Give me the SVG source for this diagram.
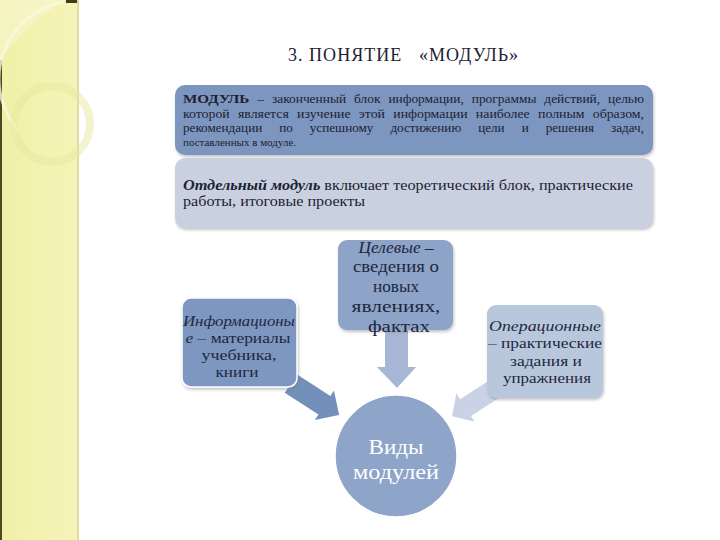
<svg xmlns="http://www.w3.org/2000/svg" width="720" height="540" viewBox="0 0 720 540">
  <defs>
    <filter id="shadow" x="-10%" y="-10%" width="120%" height="130%">
      <feDropShadow dx="1" dy="2" stdDeviation="1.5" flood-color="#7a7a7a" flood-opacity="0.45"/>
    </filter>
    <linearGradient id="band" x1="0" y1="0" x2="1" y2="0">
      <stop offset="0" stop-color="#f1f0a8"/>
      <stop offset="1" stop-color="#f5f4b8"/>
    </linearGradient>
  </defs>

  <rect x="0" y="0" width="720" height="540" fill="#ffffff"/>

  <!-- decorative left band -->
  <g id="band-decor">
    <rect x="0" y="0" width="79" height="540" fill="url(#band)"/>
    <rect x="0" y="60" width="2" height="480" fill="#4b4a22"/>
    <rect x="66" y="0" width="13" height="3" fill="#3d3c1c"/>
    <rect x="77" y="0" width="2" height="540" fill="#dcdba0"/>
    <path d="M64 2 A78 78 0 0 0 18 130" fill="none" stroke="#fafae0" stroke-width="3" opacity="0.8"/>
    <circle cx="52" cy="124" r="38" fill="none" stroke="#e8e7a0" stroke-width="8" opacity="0.5"/>
    <path d="M0 0 L66 0 Q30 20 0 60 Z" fill="#f8f8d8" opacity="0.5"/>
  </g>

  <!-- title -->
  <text x="288" y="61" fill="#1c2233" style="font-family:'Liberation Serif',serif" font-size="18" textLength="230" lengthAdjust="spacing" xml:space="preserve">3. ПОНЯТИЕ   «МОДУЛЬ»</text>

  <!-- definition box -->
  <g id="definition">
    <rect x="175" y="85" width="478" height="70" rx="10" fill="#7c96bf" filter="url(#shadow)"/>
    <text x="183" y="103" fill="#1c2233" style="font-family:'Liberation Serif',serif" font-size="11.5" word-spacing="4" textLength="461" lengthAdjust="spacingAndGlyphs"><tspan font-weight="bold" font-size="13">МОДУЛЬ</tspan> – законченный блок информации, программы действий, целью</text>
    <text x="183" y="118" fill="#1c2233" style="font-family:'Liberation Serif',serif" font-size="11.5" word-spacing="4" textLength="461" lengthAdjust="spacingAndGlyphs">которой является изучение этой информации наиболее полным образом,</text>
    <text x="183" y="132" fill="#1c2233" style="font-family:'Liberation Serif',serif" font-size="11.5" word-spacing="12" textLength="461" lengthAdjust="spacingAndGlyphs">рекомендации по успешному достижению цели и решения задач,</text>
    <text x="183" y="146" fill="#1c2233" style="font-family:'Liberation Serif',serif" font-size="11">поставленных в модуле.</text>
  </g>

  <!-- separate module box -->
  <g id="separate-module">
    <rect x="175" y="158" width="478" height="70" rx="10" fill="#c9d1e0" filter="url(#shadow)"/>
    <text x="183" y="190" fill="#1c2233" style="font-family:'Liberation Serif',serif" font-size="14.5" textLength="450" lengthAdjust="spacingAndGlyphs"><tspan font-weight="bold" font-style="italic">Отдельный модуль</tspan>  включает теоретический блок, практические</text>
    <text x="183" y="206" fill="#1c2233" style="font-family:'Liberation Serif',serif" font-size="14.5" textLength="182" lengthAdjust="spacingAndGlyphs">работы, итоговые проекты</text>
  </g>

  <!-- connectors -->
  <g id="connectors">
    <polygon points="0,-12 40,-12 40,-20 60,0 40,20 40,12 0,12" fill="#7290b9" stroke="#ffffff" stroke-width="2" transform="translate(290,383) rotate(33)"/>
    <polygon points="385,328 408,328 408,367 416,367 397,388 377,367 385,367" fill="#a6b6d4"/>
    <polygon points="0,-10 47,-10 47,-17 63,0 47,17 47,10 0,10" fill="#c9d3e5" transform="translate(505,382) rotate(147)"/>
  </g>

  <!-- target node -->
  <g id="node-target">
    <rect x="338" y="240" width="115" height="90" rx="9" fill="#8da3c7" filter="url(#shadow)"/>
    <text x="396" y="253" fill="#1e2740" text-anchor="middle" style="font-family:'Liberation Serif',serif" font-size="17" textLength="75" lengthAdjust="spacingAndGlyphs"><tspan font-style="italic">Целевые</tspan> –</text>
    <text x="396" y="272" fill="#1e2740" text-anchor="middle" style="font-family:'Liberation Serif',serif" font-size="17" textLength="86" lengthAdjust="spacingAndGlyphs">сведения о</text>
    <text x="396" y="292" fill="#1e2740" text-anchor="middle" style="font-family:'Liberation Serif',serif" font-size="17" textLength="46" lengthAdjust="spacingAndGlyphs">новых</text>
    <text x="396" y="312" fill="#1e2740" text-anchor="middle" style="font-family:'Liberation Serif',serif" font-size="17" textLength="89" lengthAdjust="spacingAndGlyphs">явлениях,</text>
    <text x="399" y="332" fill="#1e2740" text-anchor="middle" style="font-family:'Liberation Serif',serif" font-size="17" textLength="62" lengthAdjust="spacingAndGlyphs">фактах</text>
  </g>

  <!-- informational node -->
  <g id="node-info">
    <rect x="182" y="298" width="115" height="89" rx="9" fill="#7d97c0" stroke="#ffffff" stroke-width="1.5" filter="url(#shadow)"/>
    <text x="239" y="326" fill="#1e2740" text-anchor="middle" style="font-family:'Liberation Serif',serif" font-size="14.5" font-style="italic" textLength="112" lengthAdjust="spacingAndGlyphs">Информационы</text>
    <text x="238" y="343" fill="#1e2740" text-anchor="middle" style="font-family:'Liberation Serif',serif" font-size="14.5" textLength="105" lengthAdjust="spacingAndGlyphs"><tspan font-style="italic">е</tspan> – материалы</text>
    <text x="239" y="360" fill="#1e2740" text-anchor="middle" style="font-family:'Liberation Serif',serif" font-size="14.5" textLength="75" lengthAdjust="spacingAndGlyphs">учебника,</text>
    <text x="237" y="377" fill="#1e2740" text-anchor="middle" style="font-family:'Liberation Serif',serif" font-size="14.5" textLength="43" lengthAdjust="spacingAndGlyphs">книги</text>
  </g>

  <!-- operational node -->
  <g id="node-oper">
    <rect x="487" y="305" width="116" height="93" rx="9" fill="#b9c7dd" filter="url(#shadow)"/>
    <text x="545" y="331" fill="#1e2740" text-anchor="middle" style="font-family:'Liberation Serif',serif" font-size="14.5" font-style="italic" textLength="112" lengthAdjust="spacingAndGlyphs">Операционные</text>
    <text x="545" y="348" fill="#1e2740" text-anchor="middle" style="font-family:'Liberation Serif',serif" font-size="14.5" textLength="114" lengthAdjust="spacingAndGlyphs">– практические</text>
    <text x="546" y="366" fill="#1e2740" text-anchor="middle" style="font-family:'Liberation Serif',serif" font-size="14.5" textLength="72" lengthAdjust="spacingAndGlyphs">задания и</text>
    <text x="547" y="383" fill="#1e2740" text-anchor="middle" style="font-family:'Liberation Serif',serif" font-size="14.5" textLength="88" lengthAdjust="spacingAndGlyphs">упражнения</text>
  </g>

  <!-- center circle -->
  <g id="node-types">
    <circle cx="396" cy="456" r="61" fill="#8ea5c9" stroke="#ffffff" stroke-width="1.5"/>
    <text x="396" y="454" fill="#ffffff" text-anchor="middle" style="font-family:'Liberation Serif',serif" font-size="22" textLength="55" lengthAdjust="spacingAndGlyphs">Виды</text>
    <text x="396" y="479" fill="#ffffff" text-anchor="middle" style="font-family:'Liberation Serif',serif" font-size="22" textLength="86" lengthAdjust="spacingAndGlyphs">модулей</text>
  </g>
</svg>
